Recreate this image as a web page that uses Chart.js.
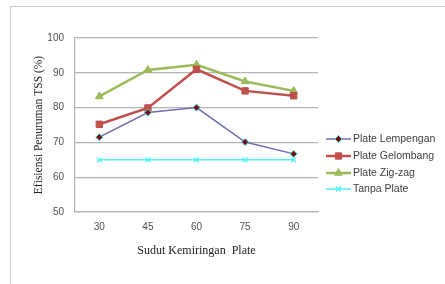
<!DOCTYPE html>
<html>
<head>
<meta charset="utf-8">
<script src="https://cdn.jsdelivr.net/npm/chart.js@4"></script>
<style>
    html, body { margin: 0; padding: 0; background: #fff; }
    #wrap { position: relative; width: 445px; height: 284px; overflow: hidden; }
    #frame { position: absolute; left: 10px; top: 6px; width: 460px; height: 300px; border-left: 1px solid #c8c8c8; border-top: 1px solid #c8c8c8; }
    canvas { position: absolute; left: 0; top: 0; }
</style>
</head>
<body>
<div id="wrap">
    <div id="frame"></div>
    <canvas id="chart" width="445" height="284"></canvas>
</div>
<script>
const angles = ['30', '45', '60', '75', '90'];
const lempengan = [71.5, 78.6, 80.0, 70.1, 66.7];
const gelombang = [75.2, 79.9, 91.0, 84.8, 83.4];
const zigzag = [83.2, 90.8, 92.3, 87.5, 84.8];
const tanpaPlate = [65, 65, 65, 65, 65];
const yTicks = [50, 60, 70, 80, 90, 100];

document.addEventListener('DOMContentLoaded', function() {
    const ctx = document.getElementById('chart').getContext('2d');

    // legend drawn like Excel: short line with the marker in the middle
    const excelLegend = {
        id: 'excelLegend',
        afterDraw(chart) {
            const c = chart.ctx;
            const x0 = 326, x1 = 351, rows = [139, 156, 173, 189];
            chart.data.datasets.forEach((ds, i) => {
                const y = rows[i];
                c.save();
                c.strokeStyle = ds.borderColor;
                c.lineWidth = ds.borderWidth;
                c.beginPath();
                c.moveTo(x0, y);
                c.lineTo(x1, y);
                c.stroke();
                c.fillStyle = ds.pointBackgroundColor;
                c.strokeStyle = ds.pointBorderColor;
                c.lineWidth = ds.pointBorderWidth;
                Chart.helpers.drawPoint(c, {
                    pointStyle: ds.pointStyle,
                    radius: ds.pointRadius,
                    borderWidth: ds.pointBorderWidth
                }, (x0 + x1) / 2, y);
                c.fillStyle = '#404040';
                c.font = '10.5px "Liberation Sans", Arial, sans-serif';
                c.textBaseline = 'middle';
                c.fillText(ds.label, 353, y + 0.5);
                c.restore();
            });
        }
    };

    new Chart(ctx, {
        type: 'line',
        data: {
            labels: angles,
            datasets: [
                {
                    label: 'Plate Lempengan',
                    data: lempengan,
                    borderColor: '#6e6eae',
                    borderWidth: 1.5,
                    pointStyle: 'rectRot',
                    pointRadius: 3.5,
                    pointBackgroundColor: '#7a0a0a',
                    pointBorderColor: '#3cd6d6',
                    pointBorderWidth: 1
                },
                {
                    label: 'Plate Gelombang',
                    data: gelombang,
                    borderColor: '#c0504d',
                    borderWidth: 2.5,
                    pointStyle: 'rect',
                    pointRadius: 4.5,
                    pointBackgroundColor: '#c0504d',
                    pointBorderColor: '#c0504d',
                    pointBorderWidth: 1
                },
                {
                    label: 'Plate Zig-zag',
                    data: zigzag,
                    borderColor: '#9bbb59',
                    borderWidth: 2.5,
                    pointStyle: 'triangle',
                    pointRadius: 4.5,
                    pointBackgroundColor: '#9bbb59',
                    pointBorderColor: '#9bbb59',
                    pointBorderWidth: 1
                },
                {
                    label: 'Tanpa Plate',
                    data: tanpaPlate,
                    borderColor: '#4ef0f0',
                    borderWidth: 1.5,
                    pointStyle: 'crossRot',
                    pointRadius: 3.5,
                    pointBackgroundColor: '#4ef0f0',
                    pointBorderColor: '#4ef0f0',
                    pointBorderWidth: 1.2
                }
            ]
        },
        options: {
            responsive: false,
            animation: false,
            layout: {
                padding: { left: 10, top: 38, right: 127, bottom: 26 }
            },
            scales: {
                y: {
                    min: 50,
                    max: 100,
                    afterFit: function(scale) { scale.width = 65; },
                    afterBuildTicks: function(scale) {
                        scale.ticks = yTicks.map(v => ({ value: v }));
                    },
                    ticks: {
                        padding: 11,
                        color: '#505050',
                        font: { family: '"Liberation Sans", Arial, sans-serif', size: 10 }
                    },
                    grid: {
                        color: '#b4b4b4',
                        lineWidth: 1.2,
                        drawTicks: false
                    },
                    border: { color: '#b4b4b4', width: 1.2 },
                    title: {
                        display: true,
                        text: 'Efisiensi Penuruman TSS (%)',
                        color: '#222',
                        font: { family: '"Liberation Serif", "Times New Roman", serif', size: 11.5 },
                        padding: { top: 22, bottom: 0 }
                    }
                },
                x: {
                    offset: true,
                    afterFit: function(scale) { scale.height = 46; },
                    ticks: {
                        padding: 9,
                        color: '#505050',
                        font: { family: '"Liberation Sans", Arial, sans-serif', size: 10 }
                    },
                    grid: {
                        display: false,
                        drawTicks: false
                    },
                    border: { color: '#b4b4b4', width: 1.2 },
                    title: {
                        display: true,
                        text: 'Sudut Kemiringan  Plate',
                        color: '#222',
                        font: { family: '"Liberation Serif", "Times New Roman", serif', size: 12 },
                        padding: { top: 8, bottom: 0 }
                    }
                }
            },
            plugins: {
                legend: { display: false },
                tooltip: { enabled: false }
            }
        },
        plugins: [excelLegend]
    });
});
</script>
</body>
</html>
